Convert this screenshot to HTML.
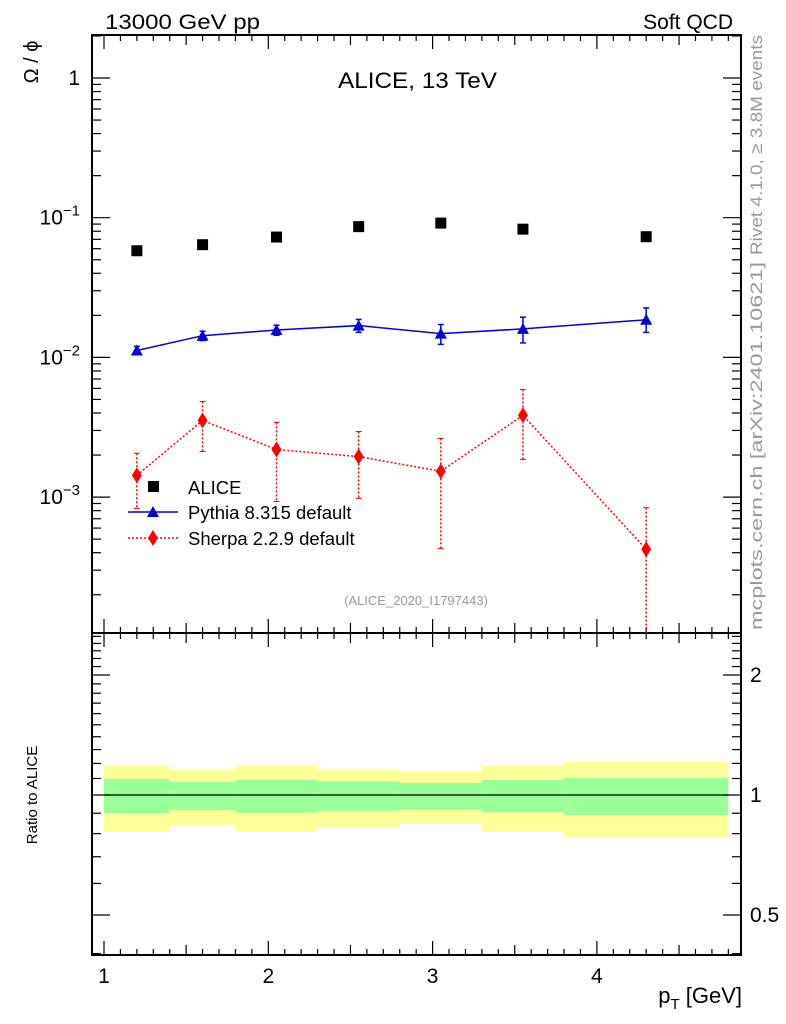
<!DOCTYPE html>
<html><head><meta charset="utf-8"><style>
html,body{margin:0;padding:0;background:#fff;}
svg{display:block;font-family:"Liberation Sans",sans-serif;}
</style></head><body>
<svg id="chart" width="786" height="1024" viewBox="0 0 786 1024">
<text x="105" y="29" font-size="21" textLength="155" lengthAdjust="spacingAndGlyphs">13000 GeV pp</text>
<text x="733" y="29" font-size="21" text-anchor="end">Soft QCD</text>
<text x="338" y="88" font-size="22" textLength="159" lengthAdjust="spacingAndGlyphs">ALICE, 13 TeV</text>
<text x="416" y="605" font-size="13" fill="#999" text-anchor="middle">(ALICE_2020_I1797443)</text>
<text transform="translate(762,255) rotate(-90)" font-size="17" fill="#999" textLength="220" lengthAdjust="spacingAndGlyphs">Rivet 4.1.0, ≥ 3.8M events</text>
<text transform="translate(762,630) rotate(-90)" font-size="17" fill="#999" textLength="368" lengthAdjust="spacingAndGlyphs">mcplots.cern.ch [arXiv:2401.10621]</text>
<text transform="translate(38,62) rotate(-90)" font-size="20" text-anchor="middle">Ω / ϕ</text>
<text transform="translate(37,795) rotate(-90)" font-size="15" text-anchor="middle">Ratio to ALICE</text>
<text x="742" y="1003" font-size="22" text-anchor="end">p<tspan font-size="15" dy="6">T</tspan><tspan dy="-6"> [GeV]</tspan></text>
<g id="g"></g>
</svg>
<script>
const xs = [1.2, 1.6, 2.05, 2.55, 3.05, 3.55, 4.3];
const binLo = [1.0, 1.4, 1.8, 2.3, 2.8, 3.3, 3.8];
const binHi = [1.4, 1.8, 2.3, 2.8, 3.3, 3.8, 4.8];
const alice = [0.058, 0.0641, 0.0727, 0.0863, 0.0915, 0.0828, 0.0731];
const pythia = [0.0112, 0.0143, 0.0157, 0.0169, 0.0148, 0.0160, 0.0186];
const pythiaUp = [0.0120, 0.0154, 0.0170, 0.0187, 0.0172, 0.0194, 0.0226];
const pythiaDn = [0.0105, 0.0132, 0.0144, 0.0151, 0.0124, 0.0127, 0.0151];
const sherpa = [0.00143, 0.00354, 0.00219, 0.00195, 0.00153, 0.00385, 0.000423];
const sherpaUp = [0.00206, 0.00484, 0.00343, 0.00295, 0.00263, 0.0059, 0.00084];
const sherpaDn = [0.00083, 0.00212, 0.00093, 0.00098, 0.00043, 0.00186, 0.00001];
const statHi = [1.097, 1.078, 1.092, 1.082, 1.072, 1.09, 1.103];
const statLo = [0.901, 0.917, 0.903, 0.913, 0.921, 0.905, 0.891];
const totHi = [1.189, 1.155, 1.189, 1.16, 1.147, 1.182, 1.21];
const totLo = [0.808, 0.838, 0.809, 0.831, 0.851, 0.812, 0.785];
const xTicks = [1, 2, 3, 4];
const yTickExp = [0, -1, -2, -3];
const rTicks = [2, 1, 0.5];

const L=92, R=741, T=35, MB=633, RB=955;
const X = v => 104 + (v-1)*164.3;
const Y = v => 78 - Math.log10(v)*139.7;
const RY = v => 795 - Math.log2(v)*120;
const g = document.getElementById('g');
const NS='http://www.w3.org/2000/svg';
function mk(tag, attrs, parent){const e=document.createElementNS(NS,tag);for(const k in attrs)e.setAttribute(k,attrs[k]);(parent||g).appendChild(e);return e;}

for(let i=0;i<xs.length;i++){
  const y1=mk('rect',{x:X(binLo[i]),y:RY(totHi[i]),width:X(binHi[i])-X(binLo[i]),height:RY(totLo[i])-RY(totHi[i]),fill:'#ffff99'});
  
  
  const g1=mk('rect',{x:X(binLo[i]),y:RY(statHi[i]),width:X(binHi[i])-X(binLo[i]),height:RY(statLo[i])-RY(statHi[i]),fill:'#99ff99'});
  
  
}
const rl=mk('line',{x1:X(1),x2:X(4.8),y1:RY(1),y2:RY(1),stroke:'#000','stroke-width':1.2});



const f1=mk('rect',{x:L,y:T,width:R-L,height:MB-T,fill:'none',stroke:'#000','stroke-width':2});


const f2=mk('rect',{x:L,y:MB,width:R-L,height:RB-MB,fill:'none',stroke:'#000','stroke-width':2});



for(let v=1;v<=4.85;v+=0.1){
  const vv=Math.round(v*10)/10, major=Math.abs(vv-Math.round(vv))<1e-6;
  const len=major?14:(Math.abs(vv*2-Math.round(vv*2))<1e-6?10:6);
  [[T,1],[MB,-1],[MB,1],[RB,-1]].forEach(([y0,d])=>{mk('line',{x1:X(vv),x2:X(vv),y1:y0,y2:y0+d*len,stroke:'#000','stroke-width':1.2});});
}
xTicks.forEach(v=>{const t=mk('text',{x:X(v),y:983,'font-size':21,'text-anchor':'middle'});t.textContent=v;
  
  });
for(let e=-4;e<=0;e++){for(let m=1;m<=9;m++){const v=m*Math.pow(10,e);const y=Y(v);if(y<T||y>MB)continue;const len=m===1?18:9;
  mk('line',{x1:L,x2:L+len,y1:y,y2:y,stroke:'#000','stroke-width':1.2});mk('line',{x1:R,x2:R-len,y1:y,y2:y,stroke:'#000','stroke-width':1.2});}}
yTickExp.forEach(e=>{const t=mk('text',{x:80,y:Y(Math.pow(10,e))+7,'font-size':21,'text-anchor':'end'});
  if(e===0)t.textContent='1';else{t.textContent='10';const s=mk('tspan',{dy:-9,'font-size':15},t);s.textContent='−'+(-e);}
  
  });
const rMinor=[];for(let k=4;k<=25;k++)rMinor.push(k/10);
rMinor.forEach(v=>{const y=RY(v);if(y<MB||y>RB)return;
  const major=[5,10,20].includes(Math.round(v*10));const len=major?18:9;
  mk('line',{x1:L,x2:L+len,y1:y,y2:y,stroke:'#000','stroke-width':1.2});mk('line',{x1:R,x2:R-len,y1:y,y2:y,stroke:'#000','stroke-width':1.2});});
rTicks.forEach(v=>{const t=mk('text',{x:750,y:RY(v)+7,'font-size':21});t.textContent=v;
  
  });

const clipY = y=>Math.min(y,MB);
mk('polyline',{points:xs.map((x,i)=>X(x)+','+Y(pythia[i])).join(' '),fill:'none',stroke:'#0000dd','stroke-width':1.5});
xs.forEach((x,i)=>{const px=X(x);
  mk('line',{x1:px,x2:px,y1:Y(pythiaUp[i]),y2:Y(pythiaDn[i]),stroke:'#0000dd','stroke-width':1.5});
  mk('line',{x1:px-3,x2:px+3,y1:Y(pythiaUp[i]),y2:Y(pythiaUp[i]),stroke:'#0000dd','stroke-width':1.5});
  mk('line',{x1:px-3,x2:px+3,y1:Y(pythiaDn[i]),y2:Y(pythiaDn[i]),stroke:'#0000dd','stroke-width':1.5});
  const py=Y(pythia[i]);
  const p=mk('polygon',{points:`${px},${py-6} ${px-6},${py+5} ${px+6},${py+5}`,fill:'#0000dd'});
  
  });
mk('polyline',{points:xs.map((x,i)=>X(x)+','+Y(sherpa[i])).join(' '),fill:'none',stroke:'#ff0000','stroke-width':1.5,'stroke-dasharray':'2,2'});
xs.forEach((x,i)=>{const px=X(x);const yu=Y(sherpaUp[i]),yd=clipY(Y(sherpaDn[i]));
  mk('line',{x1:px,x2:px,y1:yu,y2:yd,stroke:'#ff0000','stroke-width':1.5,'stroke-dasharray':'2,2'});
  mk('line',{x1:px-3,x2:px+3,y1:yu,y2:yu,stroke:'#ff0000','stroke-width':1});
  if(yd<MB)mk('line',{x1:px-3,x2:px+3,y1:yd,y2:yd,stroke:'#ff0000','stroke-width':1});
  const sy=Y(sherpa[i]);
  const p=mk('polygon',{points:`${px},${sy-8} ${px-5},${sy} ${px},${sy+8} ${px+5},${sy}`,fill:'#ff0000'});
  
  });
xs.forEach((x,i)=>{const r=mk('rect',{x:X(x)-5.5,y:Y(alice[i])-5.5,width:11,height:11,fill:'#000'});
  
  });

const lg=mk('g',{});


mk('rect',{x:148,y:481,width:11,height:11,fill:'#000'},lg);
let t=mk('text',{x:188,y:494,'font-size':18.5},lg);t.textContent='ALICE';
mk('line',{x1:128,x2:178,y1:512,y2:512,stroke:'#0000dd','stroke-width':1.5},lg);
mk('polygon',{points:'153,506 147,517 159,517',fill:'#0000dd'},lg);
t=mk('text',{x:188,y:519,'font-size':18.5},lg);t.textContent='Pythia 8.315 default';
mk('line',{x1:128,x2:178,y1:538,y2:538,stroke:'#ff0000','stroke-width':1.5,'stroke-dasharray':'2,2'},lg);
mk('polygon',{points:'153,530 148,538 153,546 158,538',fill:'#ff0000'},lg);
t=mk('text',{x:188,y:545,'font-size':18.5},lg);t.textContent='Sherpa 2.2.9 default';
</script>
</body></html>
